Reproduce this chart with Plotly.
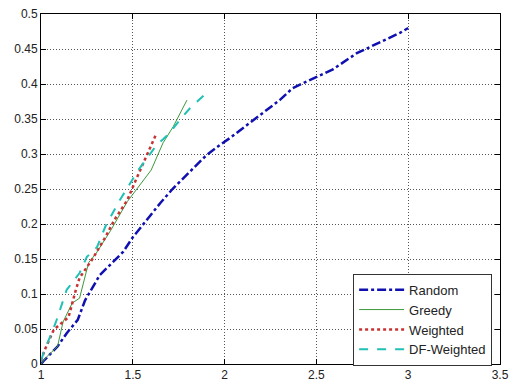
import plotly.graph_objects as go

# Curve samples for each strategy
random_x = [1.00, 1.02, 1.09, 1.14, 1.20, 1.24, 1.32, 1.376, 1.447, 1.50, 1.577, 1.65, 1.72,
            1.81, 1.90, 1.975, 2.03, 2.12, 2.18, 2.30, 2.37, 2.48, 2.59, 2.72, 2.85, 2.955, 3.00]
random_y = [0.000, 0.006, 0.025, 0.044, 0.063, 0.091, 0.127, 0.141, 0.160, 0.181, 0.206, 0.230,
            0.251, 0.274, 0.298, 0.313, 0.323, 0.341, 0.353, 0.377, 0.394, 0.407, 0.421, 0.444,
            0.460, 0.473, 0.480]

greedy_x = [1.00, 1.03, 1.09, 1.11, 1.12, 1.17, 1.21, 1.245, 1.26, 1.30, 1.38, 1.47, 1.53, 1.60,
            1.665, 1.72, 1.795]
greedy_y = [0.000, 0.010, 0.025, 0.049, 0.060, 0.087, 0.094, 0.130, 0.145, 0.158, 0.191, 0.232,
            0.253, 0.277, 0.316, 0.339, 0.377]

weighted_x = [1.00, 1.02, 1.07, 1.15, 1.19, 1.21, 1.28, 1.31, 1.35, 1.40, 1.47, 1.51, 1.566, 1.625]
weighted_y = [0.005, 0.020, 0.049, 0.067, 0.106, 0.123, 0.150, 0.163, 0.181, 0.206, 0.234, 0.259,
              0.291, 0.327]

dfw_x = [1.00, 1.02, 1.08, 1.14, 1.21, 1.25, 1.305, 1.35, 1.42, 1.485, 1.53, 1.577, 1.63, 1.665,
         1.70, 1.757, 1.81, 1.90]
dfw_y = [0.005, 0.020, 0.059, 0.106, 0.130, 0.153, 0.167, 0.196, 0.230, 0.258, 0.277, 0.294,
         0.313, 0.321, 0.330, 0.349, 0.365, 0.387]

x_ticks = [1, 1.5, 2, 2.5, 3, 3.5]
x_labels = ["1", "1.5", "2", "2.5", "3", "3.5"]
y_ticks = [0, 0.05, 0.1, 0.15, 0.2, 0.25, 0.3, 0.35, 0.4, 0.45, 0.5]
y_labels = ["0", "0.05", "0.1", "0.15", "0.2", "0.25", "0.3", "0.35", "0.4", "0.45", "0.5"]

fig = go.Figure()
fig.add_trace(go.Scatter(x=random_x, y=random_y, mode="lines", name="Random",
                         line=dict(color="#1010b0", width=2.5, dash="dashdot")))
fig.add_trace(go.Scatter(x=greedy_x, y=greedy_y, mode="lines", name="Greedy",
                         line=dict(color="#3c9a3c", width=1)))
fig.add_trace(go.Scatter(x=weighted_x, y=weighted_y, mode="lines", name="Weighted",
                         line=dict(color="#c83232", width=2.5, dash="dot")))
fig.add_trace(go.Scatter(x=dfw_x, y=dfw_y, mode="lines", name="DF-Weighted",
                         line=dict(color="#20c0b4", width=2, dash="dash")))

axis_common = dict(
    showline=True, linecolor="black", linewidth=1, mirror="ticks",
    ticks="inside", ticklen=5, tickcolor="black",
    showgrid=True, gridcolor="#555555", griddash="1px,2px", gridwidth=1,
    zeroline=False, automargin=False,
    tickfont=dict(family="Liberation Sans, Arial, sans-serif", size=12, color="#222222"),
)

fig.update_xaxes(range=[1, 3.5], tickvals=x_ticks, ticktext=x_labels, **axis_common)
fig.update_yaxes(range=[0, 0.5], tickvals=y_ticks, ticktext=y_labels, **axis_common)

fig.update_layout(
    width=510, height=387,
    margin=dict(l=41, r=10, t=14, b=23, autoexpand=False),
    paper_bgcolor="white", plot_bgcolor="white",
    font=dict(family="Liberation Sans, Arial, sans-serif", size=12, color="#222222"),
    legend=dict(x=0.68, y=0.258, xanchor="left", yanchor="top",
                bgcolor="white", bordercolor="#333333", borderwidth=1,
                font=dict(size=13), tracegroupgap=0, itemwidth=45),
    showlegend=True,
)

fig.write_html("out.html")
